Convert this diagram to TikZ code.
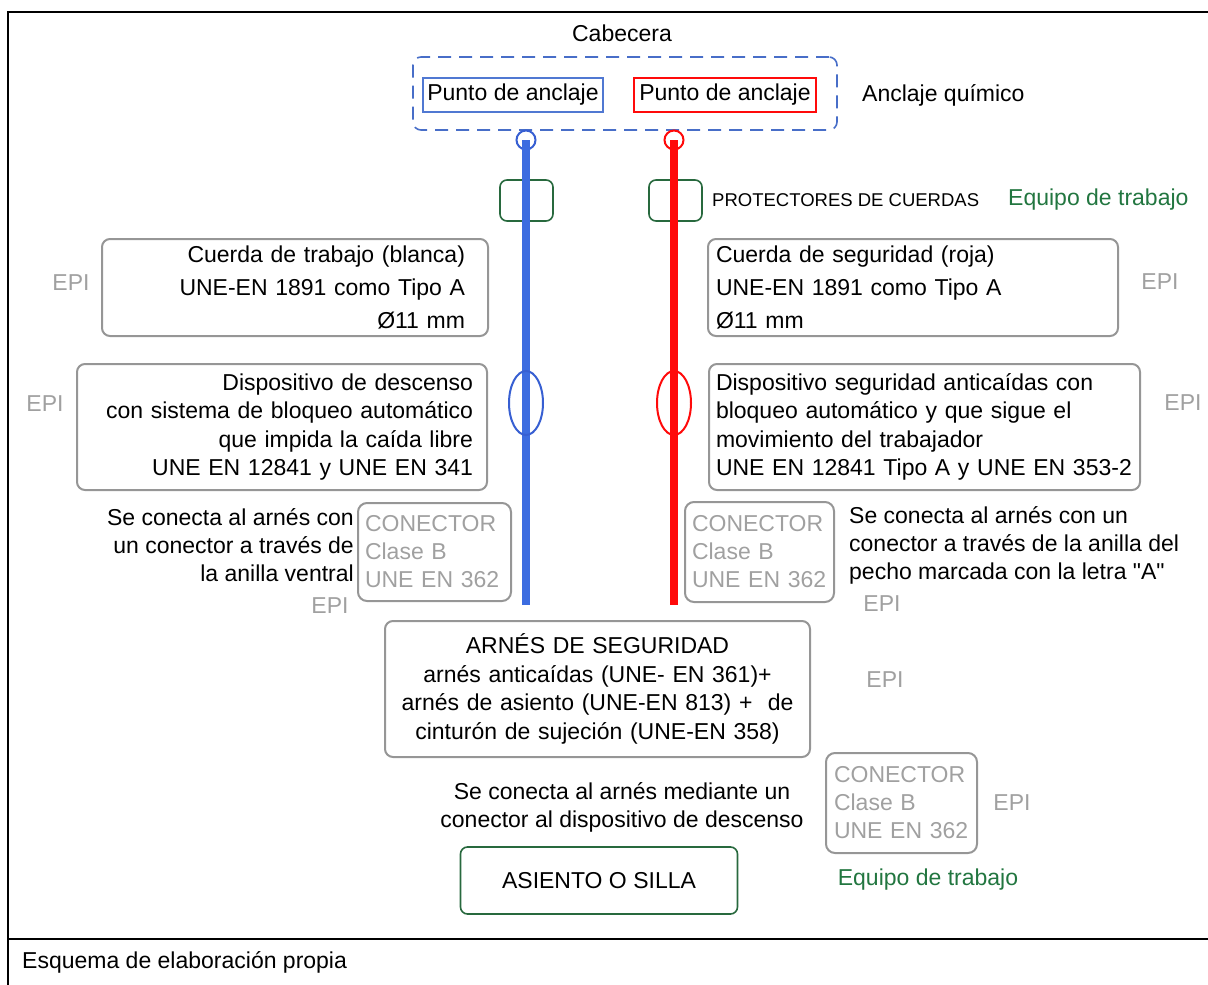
\documentclass[tikz,border=0pt]{standalone}
\usepackage{fontspec}
\setmainfont{Liberation Sans}[Ligatures=TeXOff]
\usetikzlibrary{shapes.geometric}
\definecolor{ropeblue}{RGB}{60,108,224}
\definecolor{ringblue}{RGB}{55,95,210}
\definecolor{ropered}{RGB}{255,10,10}
\definecolor{dashblue}{RGB}{72,110,200}
\definecolor{ptblue}{RGB}{80,120,210}
\definecolor{boxgray}{RGB}{150,150,150}
\definecolor{txtgray}{RGB}{160,160,160}
\definecolor{grn}{RGB}{40,105,62}
\definecolor{grntxt}{RGB}{34,118,64}
\begin{document}
\begin{tikzpicture}[x=1pt,y=-1pt,
  every node/.style={font=\fontsize{23}{28.5}\selectfont, inner sep=0pt},
  graybox/.style={draw=boxgray, line width=2pt, rounded corners=8pt},
  conbox/.style={draw=boxgray, line width=2pt, rounded corners=9pt, text=txtgray, align=left, font=\fontsize{23}{28}\selectfont},
  epi/.style={text=txtgray},
  greenbox/.style={draw=grn, line width=1.6pt, rounded corners=7pt},
  greentext/.style={text=grntxt},
  frameline/.style={line width=2pt, black},
  bluerope/.style={draw=ropeblue, line width=8pt},
  redrope/.style={draw=ropered, line width=8pt},
]
\useasboundingbox (0,0) rectangle (1208,985);

% frame
\coordinate (ftl) at (8,12);
\coordinate (ftr) at (1208,12);
\coordinate (fbl) at (8,985);
\coordinate (fml) at (8,939);
\coordinate (fmr) at (1208,939);
\draw[frameline] (ftr) -- (ftl) -- (fbl);
\draw[frameline] (fml) -- (fmr);
\node[anchor=west] (caption) at (22,962) {Esquema de elaboración propia};

% header
\node (cab) at (622,33) {Cabecera};
\node[draw=dashblue, line width=1.6pt, dash pattern=on 13pt off 8pt, rounded corners=8pt,
      minimum width=424pt, minimum height=73pt] (cabbox) at (625,93.5) {};
\node[draw=ptblue, line width=1.2pt, minimum width=180pt, minimum height=34pt] (ptL) at (513,95) {Punto de anclaje};
\node[draw=ropered, line width=1.2pt, minimum width=182pt, minimum height=34pt] (ptR) at (725,95) {Punto de anclaje};
\node[anchor=west] (quim) at (862,95) {Anclaje químico};

% protectors
\node[greenbox, minimum width=53pt, minimum height=41pt] (protL) at (526.5,200.5) {};
\node[greenbox, minimum width=53pt, minimum height=41pt] (protR) at (675.5,200.5) {};
\node[anchor=west, font=\fontsize{18.5}{22}\selectfont] (prottxt) at (712,200) {PROTECTORES DE CUERDAS};
\node[anchor=west, greentext] (eq1) at (1008,200) {Equipo de trabajo};

% rings
\node[circle, draw=ringblue, line width=2pt, minimum size=19pt] (ringL) at (526,140) {};
\node[circle, draw=ropered, line width=2pt, minimum size=19pt] (ringR) at (674,140) {};

% ropes
\coordinate (ropeLend) at (526,605);
\coordinate (ropeRend) at (674,605);
\draw[bluerope] (ringL.center) -- (ropeLend);
\draw[redrope] (ringR.center) -- (ropeRend);

% descenders
\node[ellipse, draw=ringblue, line width=2pt, minimum width=34pt, minimum height=64pt] (descL) at (526,403) {};
\node[ellipse, draw=ropered, line width=2pt, minimum width=34pt, minimum height=64pt] (descR) at (674,403) {};

% rope boxes
\node[graybox, text width=340pt, inner xsep=23pt, minimum height=97pt, align=right,
      font=\fontsize{23}{33}\selectfont] (cuerdaL) at (295,287.5)
  {Cuerda de trabajo (blanca)\\UNE-EN 1891 como Tipo A\\Ø11 mm};
\node[graybox, text width=394pt, inner xsep=8pt, minimum height=97pt, align=left,
      font=\fontsize{23}{33}\selectfont] (cuerdaR) at (913,287.5)
  {Cuerda de seguridad (roja)\\UNE-EN 1891 como Tipo A\\Ø11 mm};
\node[epi] (epi1) at (71,283) {EPI};
\node[epi] (epi2) at (1160,282) {EPI};

% device boxes
\node[graybox, text width=382pt, inner xsep=14pt, minimum height=126pt, align=right] (dispL) at (282,427)
  {Dispositivo de descenso\\con sistema de bloqueo automático\\que impida la caída libre\\UNE EN 12841 y UNE EN 341};
\node[graybox, text width=417pt, inner xsep=7pt, minimum height=126pt, align=left] (dispR) at (924.5,427)
  {Dispositivo seguridad anticaídas con\\bloqueo automático y que sigue el\\movimiento del trabajador\\UNE EN 12841 Tipo A y UNE EN 353-2};
\node[epi] (epi3) at (45,404) {EPI};
\node[epi] (epi4) at (1183,403) {EPI};

% connectors
\node[conbox, text width=139pt, inner xsep=7pt, minimum height=98pt] (conL) at (434.5,552)
  {CONECTOR\\Clase B\\UNE EN 362};
\node[conbox, text width=135pt, inner xsep=7pt, minimum height=100pt] (conR) at (759.5,552)
  {CONECTOR\\Clase B\\UNE EN 362};
\node[anchor=east, align=right, font=\fontsize{23}{28}\selectfont] (txtL) at (354,545)
  {Se conecta al arnés con\\un conector a través de\\la anilla ventral};
\node[anchor=west, align=left, font=\fontsize{23}{28}\selectfont] (txtR) at (849,545)
  {Se conecta al arnés con un\\conector a través de la anilla del\\pecho marcada con la letra "A"};
\node[epi] (epi5) at (330,606) {EPI};
\node[epi] (epi6) at (882,604) {EPI};

% harness
\node[graybox, text width=405pt, inner xsep=10pt, minimum height=136pt, align=center] (arnes) at (597.5,689)
  {ARNÉS DE SEGURIDAD\\arnés anticaídas (UNE- EN 361)+\\arnés de asiento (UNE-EN 813) +~ de\\cinturón de sujeción (UNE-EN 358)};
\node[epi] (epi7) at (885,680) {EPI};

% seat
\node[conbox, text width=135pt, inner xsep=8pt, minimum height=100pt] (conB) at (901.5,803)
  {CONECTOR\\Clase B\\UNE EN 362};
\node[epi] (epi8) at (1012,803) {EPI};
\node[align=center, font=\fontsize{23}{28}\selectfont] (txtB) at (622,807)
  {Se conecta al arnés mediante un\\conector al dispositivo de descenso};
\node[greenbox, minimum width=277pt, minimum height=67pt] (asiento) at (599,880.5) {ASIENTO O SILLA};
\node[greentext] (eq2) at (928,880) {Equipo de trabajo};
\end{tikzpicture}
\end{document}
